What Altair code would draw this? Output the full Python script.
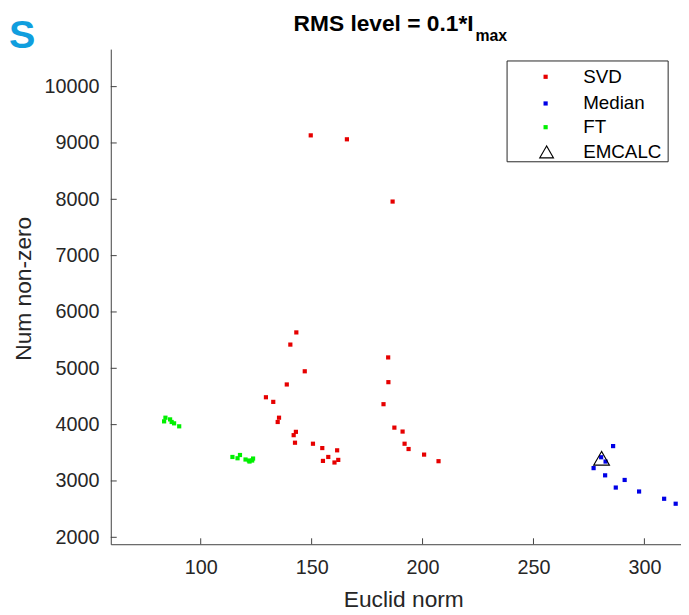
import altair as alt
import pandas as pd

# ---- data ----
svd_x = [149.6, 165.9, 186.5, 184.5, 184.6, 182.4, 187.3, 191.0, 191.9, 193.7, 200.7, 207.2,
         143.1, 140.4, 146.9, 138.8, 129.4, 132.7, 135.3, 134.7, 142.9, 141.9, 142.5, 150.6,
         154.8, 161.5, 157.5, 155.1, 160.3, 162.0]
svd_y = [9135, 9065, 7960, 5193, 4754, 4363, 3947, 3877, 3661, 3567, 3468, 3351,
         5637, 5421, 4947, 4713, 4486, 4404, 4123, 4047, 3872, 3813, 3679, 3661,
         3584, 3544, 3426, 3356, 3328, 3374]
med_x = [285.9, 277.1, 282.3, 291.1, 287.1, 297.6, 308.9, 314.1, 280.5, 282.5]
med_y = [3619, 3228, 3100, 3018, 2883, 2813, 2684, 2596, 3421, 3345]
ft_x = [83.5, 84.1, 86.2, 86.9, 88.0, 90.3, 114.3, 116.6, 117.7, 120.2, 121.7, 123.2, 123.6, 122.0]
ft_y = [4058, 4123, 4093, 4047, 4023, 3970, 3426, 3403, 3461, 3381, 3363, 3363, 3398, 3345]
em_x = [280.7]
em_y = [3403]

series_names = ["SVD", "Median", "FT", "EMCALC"]
series_colors = ["#e60000", "#0000e6", "#00f000", "#000000"]
x_ticks = [100, 150, 200, 250, 300]
y_ticks = [2000, 3000, 4000, 5000, 6000, 7000, 8000, 9000, 10000]
title_main = "RMS level = 0.1*I"
title_sub = "max"
x_title = "Euclid norm"
y_title = "Num non-zero"
panel_letter = "S"

FONT = "Liberation Sans"
AX = "#404040"
W, H = 577, 501

pts = pd.DataFrame({
    "x": svd_x + med_x + ft_x,
    "y": svd_y + med_y + ft_y,
    "s": ["SVD"] * len(svd_x) + ["Median"] * len(med_x) + ["FT"] * len(ft_x),
})
em = pd.DataFrame({"x": em_x, "y": em_y, "s": ["EMCALC"] * len(em_x)})

xs = alt.Scale(domain=[59.46, 316.5], nice=False, zero=False)
ys = alt.Scale(domain=[1877, 10666], nice=False, zero=False)

xaxis = alt.Axis(values=x_ticks, format="d", ticks=False, tickSize=0, grid=False, labelFontSize=20,
                 labelFont=FONT, labelColor="#262626", labelPadding=14, domainColor=AX,
                 title=x_title, titleFont=FONT, titleFontSize=23, titleFontWeight="normal",
                 titleColor="#262626", titleX=296, titleY=63, titleAlign="center",
                 titleBaseline="alphabetic", titleAnchor="start")
yaxis = alt.Axis(values=y_ticks, format="d", ticks=False, tickSize=0, grid=False, labelFontSize=20,
                 labelFont=FONT, labelColor="#262626", labelPadding=12, domainColor=AX,
                 title=y_title, titleFont=FONT, titleFontSize=23, titleFontWeight="normal",
                 titleColor="#262626", titleX=-88, titleY=242, titleAngle=270,
                 titleAlign="center", titleBaseline="middle", titleAnchor="start")

cscale = alt.Scale(domain=series_names[:3], range=series_colors[:3])

scatter = alt.Chart(pts).mark_square(size=18, opacity=1).encode(
    x=alt.X("x:Q", scale=xs, axis=xaxis),
    y=alt.Y("y:Q", scale=ys, axis=yaxis),
    color=alt.Color("s:N", scale=cscale, legend=None),
)
tri = alt.Chart(em).mark_point(shape="triangle-up", size=256, filled=False, color="black",
                               strokeWidth=1.1, opacity=1).encode(
    x=alt.X("x:Q", scale=xs), y=alt.Y("y:Q", scale=ys))

xt = alt.Chart(pd.DataFrame({"v": x_ticks})).mark_rule(color=AX, strokeWidth=1).encode(
    x=alt.X("v:Q", scale=xs), y=alt.value(H), y2=alt.value(H - 6))
yt = alt.Chart(pd.DataFrame({"v": y_ticks})).mark_rule(color=AX, strokeWidth=1).encode(
    y=alt.Y("v:Q", scale=ys), x=alt.value(0), x2=alt.value(6))

t1 = alt.Chart(pd.DataFrame({"t": [title_main]})).mark_text(
    font=FONT, fontSize=23, fontWeight="bold", align="left", baseline="alphabetic",
    color="black").encode(text="t:N", x=alt.value(185), y=alt.value(-18))
t2 = alt.Chart(pd.DataFrame({"t": [title_sub]})).mark_text(
    font=FONT, fontSize=16, fontWeight="bold", align="left", baseline="alphabetic",
    color="black").encode(text="t:N", x=alt.value(369), y=alt.value(-8))
letter = alt.Chart(pd.DataFrame({"t": [panel_letter]})).mark_text(
    font=FONT, fontSize=40, fontWeight="bold", align="left", baseline="alphabetic",
    color="#109ede").encode(text="t:N", x=alt.value(-103), y=alt.value(-1))

# manual legend
box = alt.Chart(pd.DataFrame({"a": [0]})).mark_rect(
    fill="white", stroke="#262626", strokeWidth=1).encode(
    x=alt.value(401), x2=alt.value(564), y=alt.value(12), y2=alt.value(114))
leg_layers = [box]
ypos = [28, 55, 79, 104]
for i, name in enumerate(series_names):
    d = pd.DataFrame({"t": [name]})
    if name == "EMCALC":
        sym = alt.Chart(d).mark_point(shape="triangle-up", size=196, filled=False,
                                      color="black", strokeWidth=1.1, opacity=1).encode(
            x=alt.value(441), y=alt.value(ypos[i]))
    else:
        sym = alt.Chart(d).mark_square(size=18, color=series_colors[i], opacity=1).encode(
            x=alt.value(440), y=alt.value(ypos[i]))
    lab = alt.Chart(d).mark_text(font=FONT, fontSize=19, align="left", baseline="middle",
                                 color="black").encode(
        text="t:N", x=alt.value(478), y=alt.value(ypos[i]))
    leg_layers += [sym, lab]

chart = alt.layer(scatter, tri, xt, yt, t1, t2, letter, *leg_layers).properties(
    width=W, height=H,
    padding={"left": 104, "top": 38, "right": 0, "bottom": 67},
    autosize=alt.AutoSizeParams(type="none"),
).configure_view(stroke=None).configure_axis(domainWidth=1)

chart.save("out.html", embed_options={"renderer": "svg", "actions": False})
